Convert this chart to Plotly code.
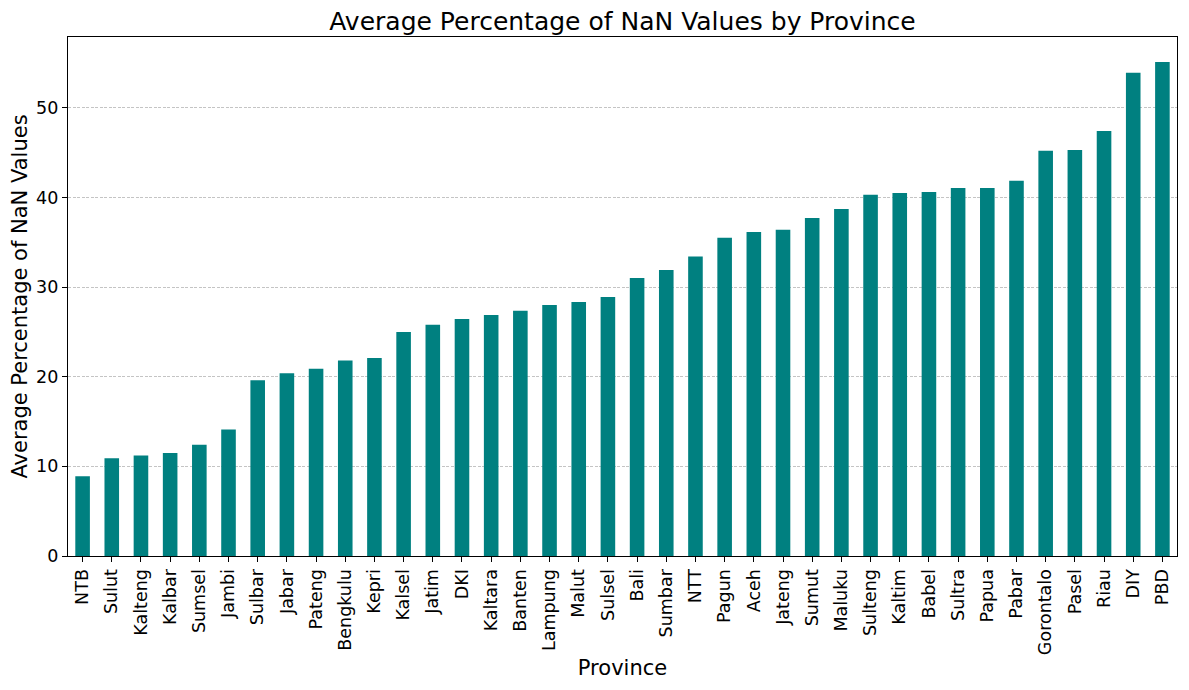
import plotly.graph_objects as go

# average % of NaN values per province, sorted ascending
provinces = ['NTB', 'Sulut', 'Kalteng', 'Kalbar', 'Sumsel', 'Jambi', 'Sulbar', 'Jabar',
             'Pateng', 'Bengkulu', 'Kepri', 'Kalsel', 'Jatim', 'DKI', 'Kaltara', 'Banten',
             'Lampung', 'Malut', 'Sulsel', 'Bali', 'Sumbar', 'NTT', 'Pagun', 'Aceh',
             'Jateng', 'Sumut', 'Maluku', 'Sulteng', 'Kaltim', 'Babel', 'Sultra', 'Papua',
             'Pabar', 'Gorontalo', 'Pasel', 'Riau', 'DIY', 'PBD']
nan_pct = [8.9, 10.9, 11.2, 11.5, 12.4, 14.1, 19.6, 20.4,
           20.9, 21.8, 22.1, 25.0, 25.8, 26.45, 26.9, 27.35,
           28.0, 28.35, 28.9, 31.0, 31.9, 33.4, 35.5, 36.15,
           36.4, 37.7, 38.7, 40.3, 40.5, 40.6, 41.05, 41.05,
           41.85, 45.2, 45.3, 47.4, 53.9, 55.1]
y_ticks = [0, 10, 20, 30, 40, 50]

font = 'DejaVu Sans'

# page body has an 8px margin, so the figure is a bit smaller than the window
W, H = 1181, 682

fig = go.Figure()
fig.add_trace(go.Bar(x=list(range(len(provinces))), y=nan_pct,
                     marker=dict(color='#008080', line=dict(width=0)),
                     width=0.5))

fig.update_layout(
    width=W, height=H,
    margin=dict(l=60, r=12, t=29, b=134),
    plot_bgcolor='white', paper_bgcolor='white',
    font=dict(family=font, color='black', size=17.5),
    showlegend=False,
    title=dict(text='Average Percentage of NaN Values by Province',
               x=614.5 / W, xanchor='center',
               y=1 - 13 / H, yanchor='middle',
               font=dict(size=25, family=font)),
)
fig.update_xaxes(
    tickmode='array', tickvals=list(range(len(provinces))), ticktext=provinces,
    tickangle=-90, range=[-0.5, len(provinces) - 0.5], automargin=False,
    showline=True, linecolor='black', linewidth=1.2, mirror=True,
    ticks='outside', ticklen=5, tickwidth=1, tickcolor='black',
    showgrid=False, zeroline=False,
    title=dict(text='Province', font=dict(size=21), standoff=6),
)
fig.update_yaxes(
    range=[0, 57.9], tickvals=y_ticks, automargin=False,
    showline=True, linecolor='black', linewidth=1.2, mirror=True,
    ticks='outside', ticklen=5, tickwidth=1, tickcolor='black',
    showgrid=True, gridcolor='#c4c4c4', griddash='3px,1.5px', gridwidth=0.6,
    zeroline=False,
    title=dict(text='Average Percentage of NaN Values', font=dict(size=21), standoff=6),
)

fig.write_html("out.html")
